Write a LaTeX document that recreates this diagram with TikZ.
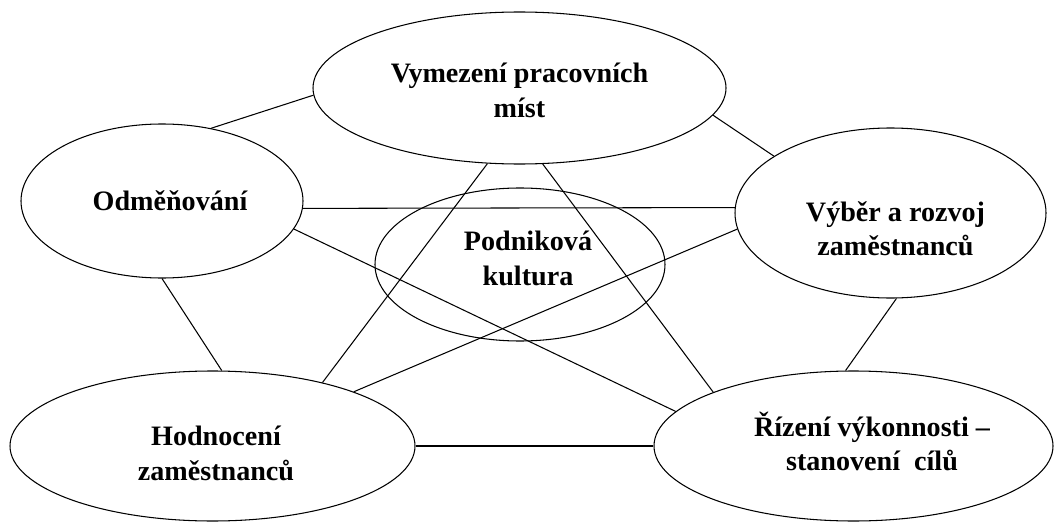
\documentclass[tikz,border=0pt]{standalone}
\usepackage{fontspec}
\setmainfont{Liberation Serif}
\usetikzlibrary{shapes.geometric}
\tikzset{
  topic ellipse/.style={ellipse,draw=black,line width=0.6pt,inner sep=0pt},
  topic text/.style={font=\bfseries\fontsize{16}{19.5}\selectfont,align=center,inner sep=0pt},
  link line/.style={line width=0.6pt,black},
}

\begin{document}
\begin{tikzpicture}
\useasboundingbox (0,0) rectangle (21.24,10.44);
% ellipses
\node[topic ellipse,minimum width=8.26cm,minimum height=3.04cm] (vym) at (10.39,8.68) {};
\node[topic ellipse,minimum width=5.64cm,minimum height=3.08cm] (odm) at (3.24,6.42) {};
\node[topic ellipse,minimum width=6.22cm,minimum height=3.40cm] (vyb) at (17.81,6.18) {};
\node[topic ellipse,minimum width=5.80cm,minimum height=3.06cm] (pod) at (10.40,5.15) {};
\node[topic ellipse,minimum width=8.10cm,minimum height=3.00cm] (hod) at (4.25,1.52) {};
\node[topic ellipse,minimum width=7.98cm,minimum height=3.00cm] (riz) at (17.07,1.52) {};
% texts
\node[topic text] (vym text) at ([yshift=-0.05cm]vym.center) {Vymezení pracovních\\míst};
\node[topic text] (odm text) at ([xshift=0.16cm]odm.center) {Odměňování};
\node[topic text] (vyb text) at ([xshift=0.1cm,yshift=-0.32cm]vyb.center) {Výběr a rozvoj\\zaměstnanců};
\node[topic text] (pod text) at ([xshift=0.16cm,yshift=0.12cm]pod.center) {Podniková\\kultura};
\node[topic text] (hod text) at ([xshift=0.07cm,yshift=-0.15cm]hod.center) {Hodnocení\\zaměstnanců};
\node[topic text] (riz text) at ([xshift=0.37cm,yshift=0.09cm]riz.center) {Řízení výkonnosti –\\stanovení~~cílů};
% links
\foreach \from/\to in {odm.56/vym.182, vym.-8/vyb.154, odm.-3/vyb.178, odm.-12/riz.169,
  odm.-90/hod.83, vym.-113/hod.30, vym.-73/riz.159, vyb.-174/hod.21, vyb.-86/riz.96, hod.0/riz.180} {
  \draw[link line] (\from) -- (\to);
}
\end{tikzpicture}
\end{document}
